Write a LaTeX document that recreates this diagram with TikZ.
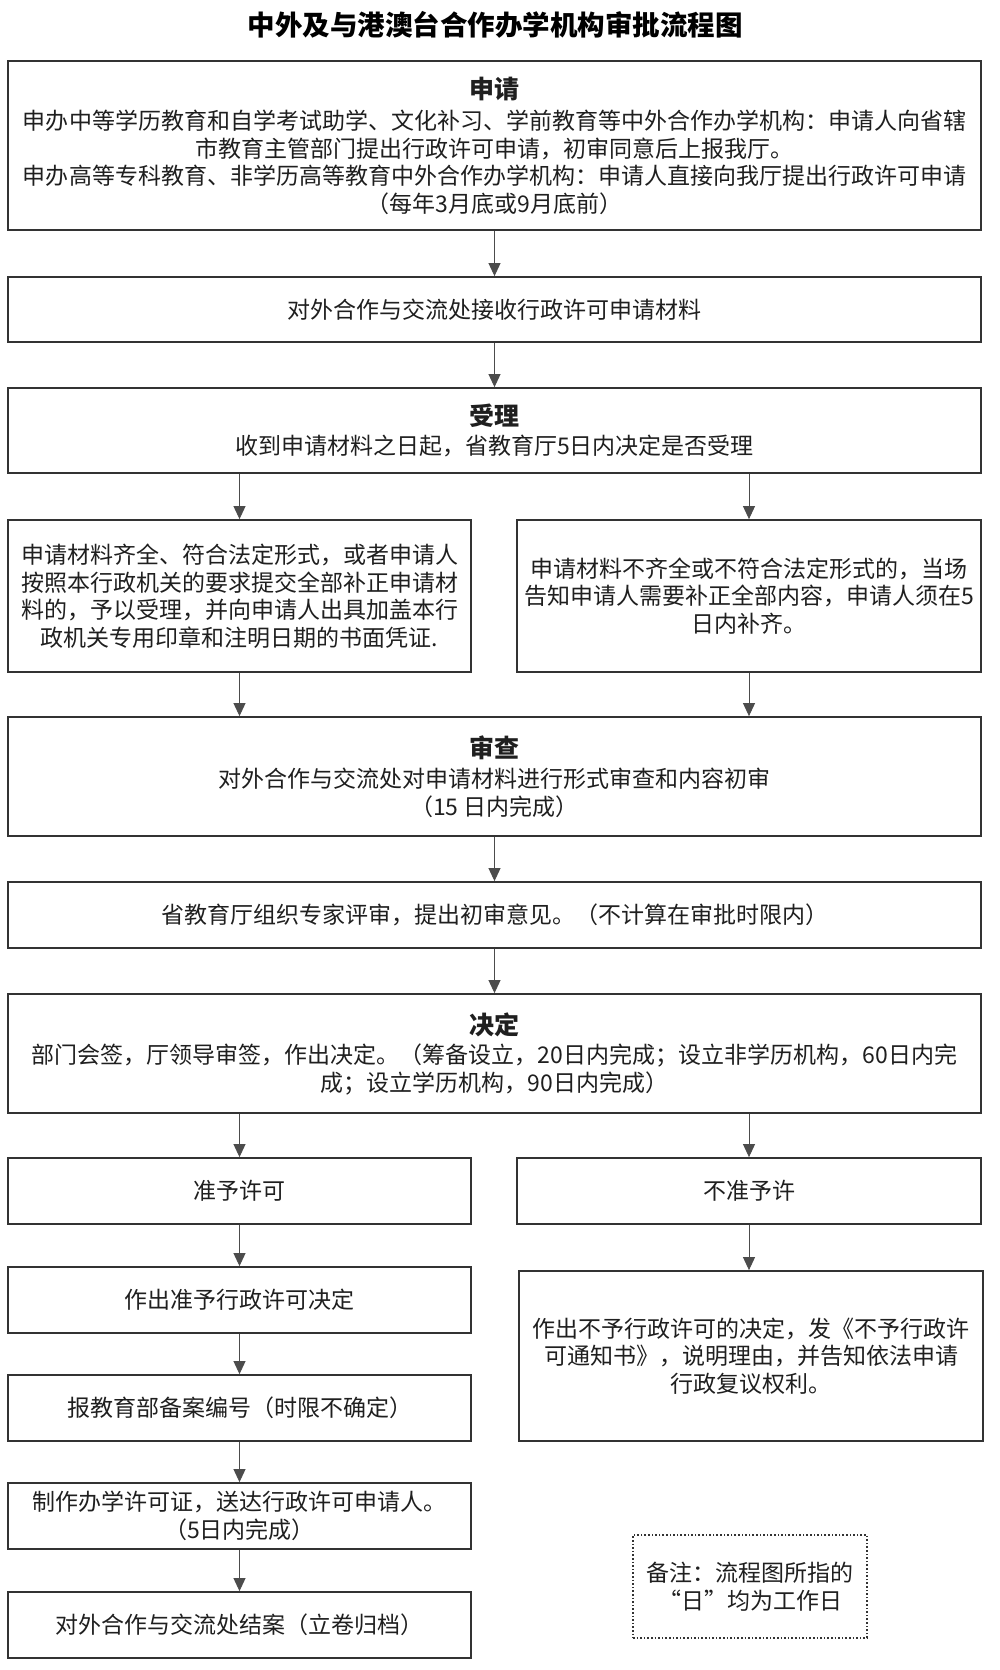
\documentclass[tikz,border=0pt]{standalone}
\usepackage{fontspec}
\setmainfont{Noto Sans CJK SC}
\usetikzlibrary{arrows.meta}
\newcommand\myBody{\fontsize{23}{27.5}\selectfont}
\newcommand\myHead{\fontsize{25}{30}\selectfont\bfseries}
\newcommand\myTitle{\fontsize{27.5}{32}\selectfont\bfseries}
\begin{document}
\begin{tikzpicture}[x=1pt,y=-1pt,
  box/.style={draw=black!80, line width=1.8pt, rectangle, align=center, inner sep=0pt, font=\myBody, text=black!88},
  arr/.style={draw=black!70, line width=0.9pt, -{Triangle[length=13pt,width=12pt]}},
  notebox/.style={draw=black!80, line width=1.6pt, dotted, rectangle, align=center, inner sep=0pt, font=\myBody, text=black!88}]
\useasboundingbox (0,0) rectangle (1000,1670);
\fill[white] (0,0) rectangle (1000,1670);

\node[font=\myTitle, text=black] (title) at (495,25) {中外及与港澳台合作办学机构审批流程图};

\node[box, minimum width=973pt, minimum height=169pt] (b1) at (494.5,145.5)
 {{\myHead 申请}\\[4pt]
  申办中等学历教育和自学考试助学、文化补习、学前教育等中外合作办学机构：申请人向省辖\\
  市教育主管部门提出行政许可申请，初审同意后上报我厅。\\
  申办高等专科教育、非学历高等教育中外合作办学机构：申请人直接向我厅提出行政许可申请\\
  （每年3月底或9月底前）};

\node[box, minimum width=973pt, minimum height=65pt] (b2) at (494.5,309.5)
 {对外合作与交流处接收行政许可申请材料};

\node[box, minimum width=973pt, minimum height=85pt] (b3) at (494.5,430.5)
 {{\myHead 受理}\\[2pt]
  收到申请材料之日起，省教育厅5日内决定是否受理};

\node[box, minimum width=463pt, minimum height=152pt] (b4l) at (239.5,596)
 {申请材料齐全、符合法定形式，或者申请人\\
  按照本行政机关的要求提交全部补正申请材\\
  料的，予以受理，并向申请人出具加盖本行\\
  政机关专用印章和注明日期的书面凭证.};

\node[box, minimum width=464pt, minimum height=152pt] (b4r) at (749,596)
 {申请材料不齐全或不符合法定形式的，当场\\
  告知申请人需要补正全部内容，申请人须在5\\
  日内补齐。};

\node[box, minimum width=973pt, minimum height=119pt] (b5) at (494.5,776.5)
 {{\myHead 审查}\\[3pt]
  对外合作与交流处对申请材料进行形式审查和内容初审\\
  （15 日内完成）};

\node[box, minimum width=973pt, minimum height=66pt] (b6) at (494.5,915)
 {省教育厅组织专家评审，提出初审意见。（不计算在审批时限内）};

\node[box, minimum width=973pt, minimum height=119pt] (b7) at (494.5,1053.5)
 {{\myHead 决定}\\[2pt]
  部门会签，厅领导审签，作出决定。（筹备设立，20日内完成；设立非学历机构，60日内完\\
  成；设立学历机构，90日内完成）};

\node[box, minimum width=463pt, minimum height=66pt] (b8l) at (239.5,1191) {准予许可};
\node[box, minimum width=464pt, minimum height=66pt] (b8r) at (749,1191) {不准予许};

\node[box, minimum width=463pt, minimum height=66pt] (b9l) at (239.5,1300) {作出准予行政许可决定};
\node[box, minimum width=464pt, minimum height=170pt] (b9r) at (751,1356)
 {作出不予行政许可的决定，发《不予行政许\\
  可通知书》，说明理由，并告知依法申请\\
  行政复议权利。};

\node[box, minimum width=463pt, minimum height=66pt] (b10l) at (239.5,1408) {报教育部备案编号（时限不确定）};
\node[box, minimum width=463pt, minimum height=66pt] (b11l) at (239.5,1516)
 {制作办学许可证，送达行政许可申请人。\\（5日内完成）};
\node[box, minimum width=463pt, minimum height=66pt] (b12l) at (239.5,1625) {对外合作与交流处结案（立卷归档）};

\node[notebox, minimum width=234pt, minimum height=103pt] (note) at (750,1586.5)
 {备注：流程图所指的\\“日”均为工作日};

\draw[arr] (b1.south) -- (b2.north);
\draw[arr] (b2.south) -- (b3.north);
\draw[arr] (b3.south -| b4l.north) -- (b4l.north);
\draw[arr] (b3.south -| b4r.north) -- (b4r.north);
\draw[arr] (b4l.south) -- (b5.north -| b4l.south);
\draw[arr] (b4r.south) -- (b5.north -| b4r.south);
\draw[arr] (b5.south) -- (b6.north);
\draw[arr] (b6.south) -- (b7.north);
\draw[arr] (b7.south -| b8l.north) -- (b8l.north);
\draw[arr] (b7.south -| b8r.north) -- (b8r.north);
\draw[arr] (b8l.south) -- (b9l.north);
\draw[arr] (b8r.south) -- (b9r.north -| b8r.south);
\draw[arr] (b9l.south) -- (b10l.north);
\draw[arr] (b10l.south) -- (b11l.north);
\draw[arr] (b11l.south) -- (b12l.north);
\end{tikzpicture}
\end{document}
